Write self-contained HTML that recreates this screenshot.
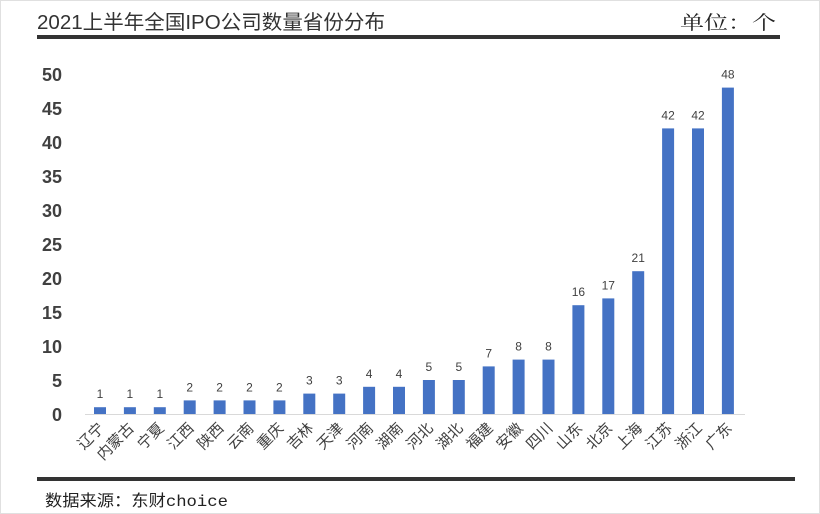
<!DOCTYPE html>
<html><head><meta charset="utf-8"><style>
body{margin:0;background:#fff;width:820px;height:514px;overflow:hidden;font-family:"Liberation Sans","Noto Sans CJK SC",sans-serif;}
</style></head><body>
<svg width="820" height="514" style="position:absolute;left:0;top:0">
<rect x="0.5" y="0.5" width="819" height="513" fill="#fff" stroke="#e0e0e0"/>
<text x="37" y="29" font-size="20" fill="#333" textLength="348" lengthAdjust="spacingAndGlyphs" font-family="Liberation Sans,Noto Sans CJK SC,sans-serif">2021上半年全国IPO公司数量省份分布</text>
<text x="680" y="29" font-size="19" fill="#222" textLength="96" lengthAdjust="spacingAndGlyphs" font-family="Noto Serif CJK SC,serif">单位：个</text>
<rect x="37" y="35" width="743" height="4" fill="#333"/>
<g id="yaxis"></g>
<line x1="85" y1="414.5" x2="745" y2="414.5" stroke="#d9d9d9"/>
<g id="bars"></g>
<rect x="37" y="477" width="758" height="4" fill="#333"/>
<text x="45" y="506" font-size="16" fill="#222" textLength="183" lengthAdjust="spacingAndGlyphs" font-family="Liberation Mono,Noto Sans CJK SC,monospace">数据来源：东财choice</text>
</svg>
<script>
const categories=["辽宁","内蒙古","宁夏","江西","陕西","云南","重庆","吉林","天津","河南","湖南","河北","湖北","福建","安徽","四川","山东","北京","上海","江苏","浙江","广东"];
const values=[1,1,1,2,2,2,2,3,3,4,4,5,5,7,8,8,16,17,21,42,42,48];
const yTicks=[0,5,10,15,20,25,30,35,40,45,50];
const NS="http://www.w3.org/2000/svg";
const y=v=>414-v*6.8;
const x=i=>100+i*29.9;
const ya=document.getElementById('yaxis'),bg=document.getElementById('bars');
function mk(tag,attrs,parent){const e=document.createElementNS(NS,tag);for(const k in attrs)e.setAttribute(k,attrs[k]);parent.appendChild(e);return e;}
yTicks.forEach(t=>{
 const e=mk('text',{x:62,y:y(t)+7,'font-size':18,'font-weight':'bold',fill:'#404040','text-anchor':'end'},ya);
 
 
 e.textContent=t;
});
categories.forEach((c,i)=>{
 const r=mk('rect',{x:x(i)-6,y:y(values[i]),width:12,height:414-y(values[i]),fill:'#4472c4'},bg);
 
 
 const v=mk('text',{x:x(i),y:y(values[i])-9,'font-size':12,fill:'#404040','text-anchor':'middle'},bg);
 
 
 v.textContent=values[i];
 const l=mk('text',{x:x(i)+5,y:429,'font-size':15,fill:'#404040','text-anchor':'end',transform:`rotate(-45 ${x(i)+5} 429)`},bg);
 
 
 l.textContent=c;
});
</script>
</body></html>
